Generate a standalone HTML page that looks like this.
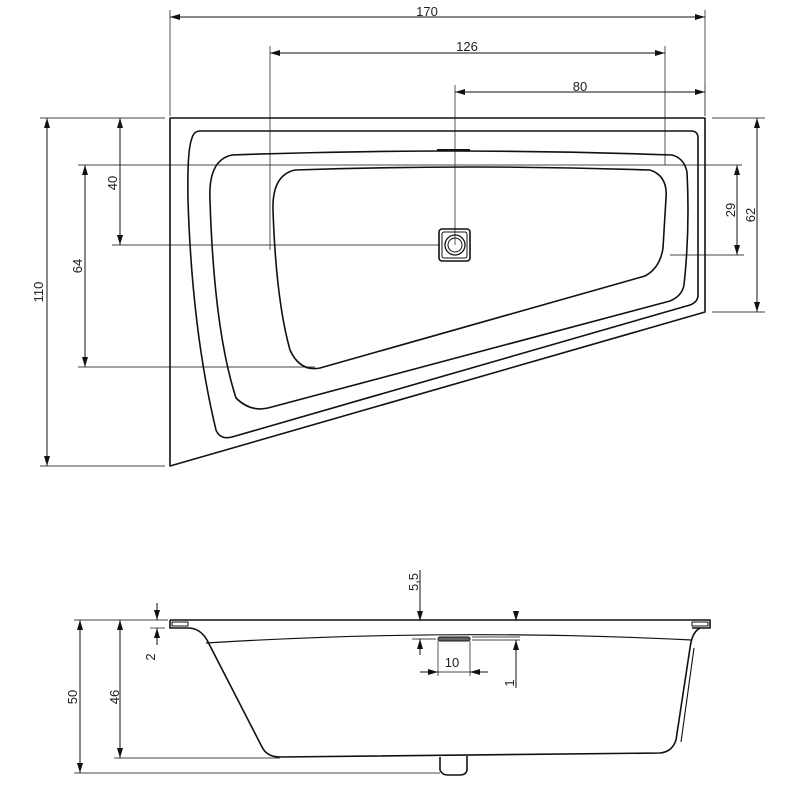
<!DOCTYPE html>
<html><head><meta charset="utf-8"><style>body{margin:0;background:#fff}svg{display:block}text{font-family:"Liberation Sans",sans-serif;font-size:13px;fill:#222}</style></head>
<body>
<svg width="800" height="800" viewBox="0 0 800 800" xmlns="http://www.w3.org/2000/svg">
<defs>
<marker id="a" viewBox="0 0 10 6" refX="10" refY="3" markerWidth="10" markerHeight="6" orient="auto-start-reverse" markerUnits="userSpaceOnUse"><path d="M0,0 L10,3 L0,6 Z" fill="#111"/></marker>
</defs>
<g stroke="#444" stroke-width="0.9" fill="none">
<line x1="170" y1="10" x2="170" y2="116"/><line x1="705" y1="10" x2="705" y2="116"/>
<line x1="270" y1="46" x2="270" y2="250"/><line x1="665" y1="46" x2="665" y2="165"/>
<line x1="455" y1="85" x2="455" y2="245"/><line x1="705" y1="85" x2="705" y2="116"/>
<line x1="112" y1="118" x2="165" y2="118"/><line x1="112" y1="245" x2="440" y2="245"/>
<line x1="78" y1="165" x2="742" y2="165"/><line x1="78" y1="367" x2="315" y2="367"/>
<line x1="40" y1="118" x2="165" y2="118"/><line x1="40" y1="466" x2="165" y2="466"/>
<line x1="670" y1="255" x2="744" y2="255"/>
<line x1="712" y1="118" x2="765" y2="118"/><line x1="712" y1="312" x2="765" y2="312"/>
<line x1="74" y1="620" x2="168" y2="620"/><line x1="114" y1="758" x2="280" y2="758"/>
<line x1="74" y1="773" x2="440" y2="773"/>
<line x1="150" y1="628" x2="165" y2="628"/>
<line x1="412" y1="639" x2="436" y2="639"/><line x1="472" y1="637" x2="520" y2="637"/><line x1="472" y1="640" x2="520" y2="640"/>
<line x1="438" y1="641" x2="438" y2="676"/><line x1="470" y1="641" x2="470" y2="676"/>
</g>
<g stroke="#111" stroke-width="1" fill="none">
<line x1="170" y1="17" x2="705" y2="17" marker-start="url(#a)" marker-end="url(#a)"/>
<line x1="270" y1="53" x2="665" y2="53" marker-start="url(#a)" marker-end="url(#a)"/>
<line x1="455" y1="92" x2="705" y2="92" marker-start="url(#a)" marker-end="url(#a)"/>
<line x1="120" y1="118" x2="120" y2="245" marker-start="url(#a)" marker-end="url(#a)"/>
<line x1="85" y1="165" x2="85" y2="367" marker-start="url(#a)" marker-end="url(#a)"/>
<line x1="47" y1="118" x2="47" y2="466" marker-start="url(#a)" marker-end="url(#a)"/>
<line x1="737" y1="165" x2="737" y2="255" marker-start="url(#a)" marker-end="url(#a)"/>
<line x1="757" y1="118" x2="757" y2="312" marker-start="url(#a)" marker-end="url(#a)"/>
<line x1="80" y1="620" x2="80" y2="773" marker-start="url(#a)" marker-end="url(#a)"/>
<line x1="120" y1="620" x2="120" y2="758" marker-start="url(#a)" marker-end="url(#a)"/>
<line x1="157" y1="603" x2="157" y2="620" marker-end="url(#a)"/>
<line x1="157" y1="645" x2="157" y2="628" marker-end="url(#a)"/>
<line x1="420" y1="570" x2="420" y2="621" marker-end="url(#a)"/>
<line x1="420" y1="655" x2="420" y2="639" marker-end="url(#a)"/>
<line x1="516" y1="612" x2="516" y2="621" marker-end="url(#a)"/>
<line x1="516" y1="688" x2="516" y2="640" marker-end="url(#a)"/>
<line x1="420" y1="672" x2="438" y2="672" marker-end="url(#a)"/>
<line x1="488" y1="672" x2="470" y2="672" marker-end="url(#a)"/>
<line x1="438" y1="672" x2="470" y2="672" stroke-width="0.8"/>
</g>
<g stroke="#111" stroke-width="1.6" fill="none" stroke-linejoin="round">
<path d="M170,118 H705 V312 L170,466 Z"/>
<path d="M200,131 H691 Q698,131 698,138 V295 Q698,302 690,305 L232,437 Q220,440 216,430 Q192,330 188,200 Q187,150 192,138 Q194,131 200,131 Z"/>
<path d="M232,155 Q450,147 672,155 Q684,158 687,172 Q690,230 684,285 Q682,296 670,301 L268,408 Q250,412 236,398 Q214,330 210,200 Q208,160 232,155 Z"/>
<path d="M295,170 Q470,164 650,170 Q668,176 666,198 L663,248 Q660,268 645,276 L320,368 Q300,372 290,350 Q276,300 273,210 Q272,175 295,170 Z"/>
<rect x="439" y="229" width="31" height="32" rx="3"/>
<rect x="442" y="232" width="25" height="26" rx="2" stroke-width="1"/>
<circle cx="455" cy="245" r="10" stroke-width="1.3"/>
<circle cx="455" cy="245" r="7" stroke-width="1"/>
<line x1="437" y1="150" x2="470" y2="150" stroke-width="2"/>
<path d="M170,620 H710 V628 H692 M170,620 V628 H188"/>
<path d="M172,622 H188 V626 H172 Z" stroke-width="1"/>
<path d="M692,622 H708 V626 H692 Z" stroke-width="1"/>
<path d="M188,628 Q200,628 207,640 L262,747 Q267,757 280,757 L660,753 Q672,752 676,740 L690,648 Q692,632 700,628"/>
<path d="M681,742 L694,648" stroke-width="1.1"/>
<path d="M206,643 Q450,628 692,640" stroke-width="1.2"/>
<rect x="438" y="637" width="32" height="4" rx="2" fill="#666" stroke-width="1"/>
<path d="M440,757 V770 Q442,775 448,775 H460 Q466,775 467,770 V756"/>
</g>
<g>
<text x="427" y="16" text-anchor="middle">170</text>
<text x="467" y="51" text-anchor="middle">126</text>
<text x="580" y="91" text-anchor="middle">80</text>
<text x="452" y="667" text-anchor="middle">10</text>
<text transform="translate(117,183) rotate(-90)" text-anchor="middle">40</text>
<text transform="translate(82,266) rotate(-90)" text-anchor="middle">64</text>
<text transform="translate(43,292) rotate(-90)" text-anchor="middle">110</text>
<text transform="translate(735,210) rotate(-90)" text-anchor="middle">29</text>
<text transform="translate(755,215) rotate(-90)" text-anchor="middle">62</text>
<text transform="translate(77,697) rotate(-90)" text-anchor="middle">50</text>
<text transform="translate(119,697) rotate(-90)" text-anchor="middle">46</text>
<text transform="translate(155,657) rotate(-90)" text-anchor="middle">2</text>
<text transform="translate(418,582) rotate(-90)" text-anchor="middle">5,5</text>
<text transform="translate(514,683) rotate(-90)" text-anchor="middle">1</text>
</g>
</svg>
</body></html>
